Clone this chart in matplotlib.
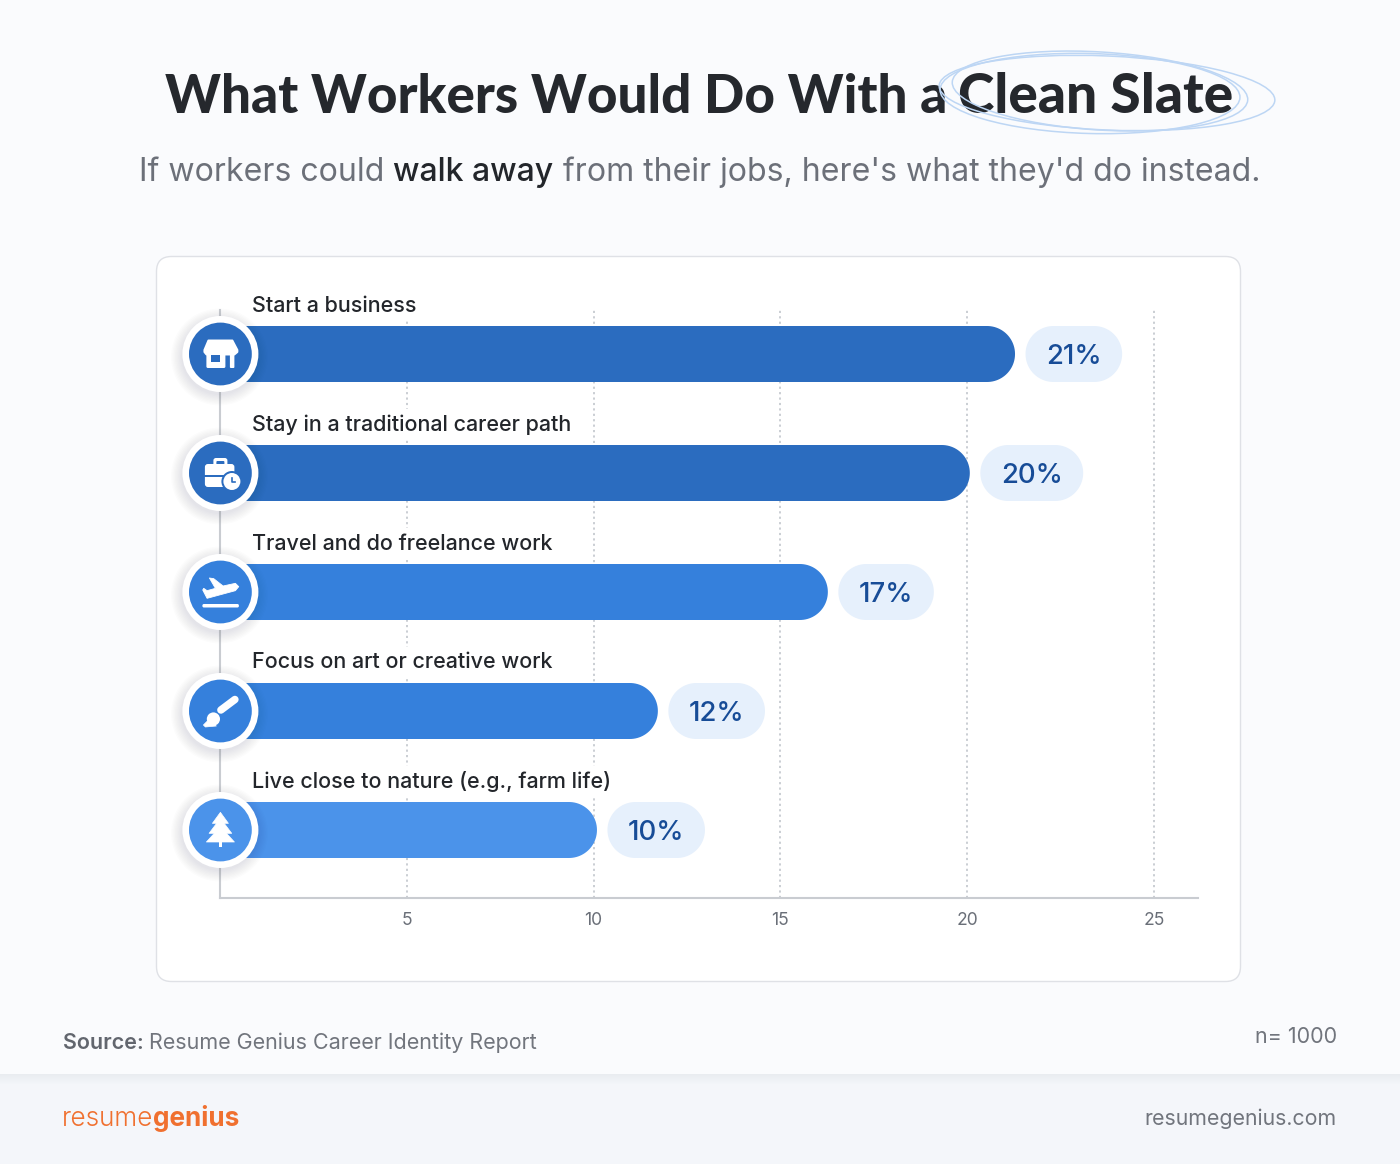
import numpy as np
import matplotlib
matplotlib.use("Agg")
import matplotlib.pyplot as plt
from matplotlib.patches import FancyBboxPatch, Circle, Ellipse, Rectangle, Polygon

# ---- data ----
categories = ["Start a business", "Stay in a traditional career path",
              "Travel and do freelance work", "Focus on art or creative work",
              "Live close to nature (e.g., farm life)"]
percent_labels = [21, 20, 17, 12, 10]
bar_lengths = [21.28, 20.07, 16.27, 11.72, 10.09]   # as drawn in the picture
bar_colors = ["#2b6cbf", "#2b6cbf", "#3580dc", "#3580dc", "#4b93ea"]
x_ticks = [5, 10, 15, 20, 25]

W, H = 1400, 1164
DPI = 100
PX = 72 / DPI
FONT = "Inter"
plt.rcParams["font.family"] = [FONT, "DejaVu Sans"]

fig = plt.figure(figsize=(W / DPI, H / DPI), dpi=DPI, facecolor="#fafbfd")

# pixel-space canvases for decoration
bg = fig.add_axes([0, 0, 1, 1], zorder=0)
bg.set_xlim(0, W); bg.set_ylim(H, 0); bg.axis("off")
top = fig.add_axes([0, 0, 1, 1], zorder=5)
top.set_xlim(0, W); top.set_ylim(H, 0); top.axis("off"); top.patch.set_alpha(0)

# footer band
bg.add_patch(Rectangle((0, 1074), W, 90, fc="#f4f6fa", ec="none"))
for i in range(10):
    bg.add_patch(Rectangle((0, 1074), W, 10 - i, fc="#dfe3ea", ec="none", alpha=0.05))

# card
bg.add_patch(FancyBboxPatch((156.5, 256.5), 1084, 725, boxstyle="round,pad=0,rounding_size=15",
                            fc="white", ec="#dfe1e6", lw=1.0))

# chart axes
L, R, T, B = 220, 1198, 310, 898
UX = 37.36   # px per x unit
UY = 119.0   # px per row
ax = fig.add_axes([L / W, 1 - B / H, (R - L) / W, (B - T) / H], zorder=2)
ax.patch.set_alpha(0)
ax.set_xlim(0, (R - L) / UX)
ax.set_ylim((B - 354) / UY, (T - 354) / UY)
for s in ["top", "right"]:
    ax.spines[s].set_visible(False)
for s in ["left", "bottom"]:
    ax.spines[s].set_color("#c9ccd1")
    ax.spines[s].set_linewidth(1.5)
ax.set_yticks([])
ax.set_xticks(x_ticks)
ax.tick_params(axis="x", length=0, pad=10, labelsize=17.5 * PX, labelcolor="#6a6f78")
ax.grid(axis="x", color="#c6cad0", lw=1.3, ls=(0, (1.2, 1.8)), zorder=0)
ax.set_axisbelow(True)

h = 56 / UY


def capsule(x0, x1, y, color, z):
    """Horizontal bar with true semicircular right and left ends, in data units."""
    rx, ry = 28 / UX, h / 2
    t = np.linspace(-np.pi / 2, np.pi / 2, 48)
    xs = np.r_[x1 - rx + rx * np.cos(t), x0 + rx - rx * np.cos(t[::-1])]
    ys = np.r_[y + ry * np.sin(t), y + ry * np.sin(t[::-1])]
    ax.add_patch(Polygon(np.c_[xs, ys], closed=True, fc=color, ec="none", zorder=z))


ypos = list(range(len(categories)))
for y, length, color in zip(ypos, bar_lengths, bar_colors):
    capsule(0, length, y, color, 3)

fig.canvas.draw()
rend = fig.canvas.get_renderer()
for y, cat, length, pct in zip(ypos, categories, bar_lengths, percent_labels):
    ax.annotate(cat, (0, y), xytext=(32 * PX, 48.5 * PX), textcoords="offset points",
                ha="left", va="center", fontsize=21.5 * PX, color="#23262b", fontweight=500,
                zorder=2, annotation_clip=False,
                bbox=dict(fc="white", ec="none", boxstyle="square,pad=0.25"))
    t = ax.annotate(f"{pct}%", (length, y), xytext=(31 * PX, 0), textcoords="offset points",
                    ha="left", va="center_baseline", fontsize=27.5 * PX, color="#174c97",
                    fontweight=500, zorder=6, annotation_clip=False)
    tw = t.get_window_extent(rend).width
    capsule(length + 10.5 / UX, length + (10.5 + tw + 41) / UX, y, "#e6f0fc", 4)

# icons
cx = 220.4
centers = [354, 473, 592, 711, 830]
WHITE = "white"


def add_badge(cy, color):
    for i in range(9):
        top.add_patch(Circle((cx - 1, cy + 3), 38 + i * 1.3, fc="#20304a", ec="none", alpha=0.010))
    top.add_patch(Circle((cx, cy), 38, fc="white", ec="none"))
    top.add_patch(Circle((cx, cy), 31.4, fc=color, ec="none"))


def rrect(x0, y0, x1, y1, r, **kw):
    top.add_patch(FancyBboxPatch((x0, y0), x1 - x0, y1 - y0,
                                 boxstyle=f"round,pad=0,rounding_size={r}", ec="none", **kw))


def store(cy, c):
    top.add_patch(Polygon([(cx - 12, cy - 13.5), (cx + 12, cy - 13.5), (cx + 17, cy - 4), (cx + 17, cy - 2),
                           (cx + 14, cy + 0.5), (cx - 14, cy + 0.5), (cx - 16, cy - 2), (cx - 16, cy - 4)],
                          fc=WHITE, ec=WHITE, lw=1.4, joinstyle="round"))
    rrect(cx - 14, cy - 2, cx + 5, cy + 14, 1.5, fc=WHITE)
    top.add_patch(Rectangle((cx - 9, cy + 1), 9, 7, fc=c, ec="none"))
    rrect(cx + 9.5, cy - 2, cx + 14, cy + 14, 1, fc=WHITE)


def briefcase(cy, c):
    rrect(cx - 7, cy - 15, cx + 7, cy - 6, 2.5, fc=WHITE)
    rrect(cx - 4, cy - 12, cx + 4, cy - 6, 1, fc=c)
    rrect(cx - 15.5, cy - 9, cx + 14, cy + 14, 3, fc=WHITE)
    top.add_patch(Rectangle((cx - 16, cy + 2), 31, 2, fc=c, ec="none"))
    top.add_patch(Circle((cx + 11.5, cy + 8.5), 10.5, fc=c, ec="none"))
    top.add_patch(Circle((cx + 11.5, cy + 8.5), 8.5, fc=WHITE, ec="none"))
    top.plot([cx + 11.5, cx + 11.5, cx + 15], [cy + 4.5, cy + 9, cy + 9], color=c, lw=1.2)


def plane(cy, c):
    rrect(cx - 18, cy + 12, cx + 18.5, cy + 15.5, 1.5, fc=WHITE)
    pts = [(97, 900), (110, 925), (195, 902), (205, 890), (195, 880), (158, 888),
           (130, 866), (117, 864), (135, 895), (110, 902), (100, 895)]
    top.add_patch(Polygon([(cx + (a - 150) / 3, cy + (b - 906) / 3) for a, b in pts],
                          fc=WHITE, ec=WHITE, lw=0.6, joinstyle="round"))


def brush(cy, c):
    top.plot([cx + 0.5, cx + 14.5], [cy - 1, cy - 11.5], color=WHITE, lw=7.5 * PX, solid_capstyle="round")
    top.add_patch(Circle((cx - 7, cy + 8), 6.6, fc=WHITE, ec="none"))
    top.add_patch(Polygon([(cx - 17, cy + 14), (cx - 13, cy + 10), (cx - 4, cy + 15), (cx - 15, cy + 16)],
                          fc=WHITE, ec=WHITE, lw=0.5, joinstyle="round"))


def tree(cy, c):
    f = lambda a, b: (cx + (a - 150) / 3, cy + (b - 570) / 3)
    for apex, base, half in [(517, 550, 24), (535, 580, 34), (560, 606, 42)]:
        top.add_patch(Polygon([f(150, apex), f(150 + half, base), f(150 - half, base)],
                              fc=WHITE, ec=WHITE, lw=0.5, joinstyle="round"))
    top.add_patch(Rectangle(f(145, 600), 11 / 3, 22 / 3, fc=WHITE, ec="none"))


for cy, col, fn in zip(centers, bar_colors, [store, briefcase, plane, brush, tree]):
    add_badge(cy, col)
    fn(cy, col)


# runs of text in pixel space
def runs(x, y, parts, ax_=bg, **kw):
    for s, color, weight in parts:
        t = ax_.text(x, y, s, color=color, fontweight=weight, ha="left", va="baseline", **kw)
        x = ax_.transData.inverted().transform((t.get_window_extent(rend).x1, 0))[0]
    return x


# title
bg.text(165, 113, "What Workers Would Do With a", ha="left", va="baseline",
        fontsize=53 * PX, fontweight=900, color="#25282d", zorder=4,
        family=["Lato", "DejaVu Sans"])
bg.text(958, 113, "Clean Slate", ha="left", va="baseline",
        fontsize=55 * PX, fontweight=900, color="#25282d", zorder=4,
        family=["Lato", "DejaVu Sans"])
for (ex, ey, ew, eh, ang) in [(1107, 93, 336, 74, 2.5), (1100, 91, 296, 78, 3.5), (1090, 93.5, 300, 80, 1.5)]:
    bg.add_patch(Ellipse((ex, ey), ew, eh, angle=ang, fc="none", ec="#bdd6f4", lw=1.1, zorder=5))

# subtitle
runs(139, 181, [("If workers could ", "#6c7079", 400), ("walk away", "#23262b", 500),
                (" from their jobs, here's what they'd do instead.", "#6c7079", 400)],
     fontsize=32.03 * PX)

# footer texts
runs(63, 1049, [("Source: ", "#62666e", 600), ("Resume Genius Career Identity Report", "#71757d", 400)],
     fontsize=21.5 * PX)
bg.text(1337, 1043, "n= 1000", ha="right", va="baseline", fontsize=21.5 * PX, color="#71757d")
bg.text(1336, 1125, "resumegenius.com", ha="right", va="baseline", fontsize=21.3 * PX, color="#71757d")
runs(62, 1126, [("resume", "#f0702f", 300), ("genius", "#f0702f", 700)], fontsize=26.2 * PX)

fig.savefig("out.png", dpi=DPI, facecolor=fig.get_facecolor())
